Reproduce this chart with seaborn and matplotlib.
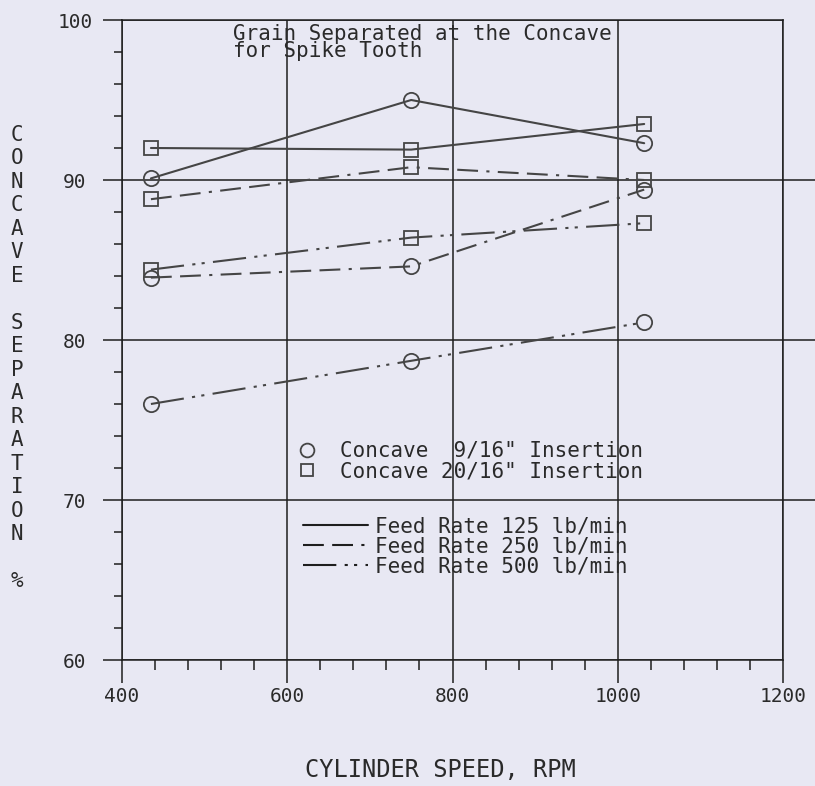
import matplotlib
matplotlib.use("Agg")
import matplotlib.pyplot as plt
import pandas as pd
import seaborn as sns
from matplotlib.lines import Line2D
from matplotlib.ticker import MultipleLocator

# ---------------- data ----------------
rpm = [435, 750, 1032]
sep_9_16_fr125 = [90.1, 95.0, 92.3]
sep_9_16_fr250 = [83.9, 84.6, 89.4]
sep_9_16_fr500 = [76.0, 78.7, 81.1]
sep_20_16_fr125 = [92.0, 91.9, 93.5]
sep_20_16_fr250 = [88.8, 90.8, 90.0]
sep_20_16_fr500 = [84.4, 86.4, 87.3]

insertions = ["9/16", "20/16"]
feed_rates = [125, 250, 500]
insertion_labels = ['Concave  9/16" Insertion', 'Concave 20/16" Insertion']
feed_labels = ["Feed Rate 125 lb/min", "Feed Rate 250 lb/min", "Feed Rate 500 lb/min"]
x_ticks = [400, 600, 800, 1000, 1200]
x_ticklabels = ["400", "600", "800", "1000", "1200"]
y_ticks = [60, 70, 80, 90, 100]
y_ticklabels = ["60", "70", "80", "90", "100"]
title_text = "Grain Separated at the Concave\nfor Spike Tooth"
x_label = "CYLINDER SPEED, RPM"
y_label = "CONCAVE SEPARATION %"

series = {
    ("9/16", 125): sep_9_16_fr125,
    ("9/16", 250): sep_9_16_fr250,
    ("9/16", 500): sep_9_16_fr500,
    ("20/16", 125): sep_20_16_fr125,
    ("20/16", 250): sep_20_16_fr250,
    ("20/16", 500): sep_20_16_fr500,
}
rows = []
for (ins, fr), vals in series.items():
    for x, v in zip(rpm, vals):
        rows.append({"insertion": ins, "feed": fr, "rpm": x, "sep": v})
df = pd.DataFrame(rows)

# ---------------- style ----------------
sns.set_style("ticks")
plt.rcParams["font.family"] = ["DejaVu Sans Mono", "DejaVu Sans"]

BG = "#e8e8f3"
INK = "#1e1e1e"
LINE = "#454545"
TXT = "#2a2a2a"

markers = {"9/16": "o", "20/16": "s"}
msizes = {"9/16": 11, "20/16": 9.5}
dash = {125: "-", 250: (0, (10, 4, 10, 4, 1.5, 4)), 500: (0, (16, 4, 1.5, 3, 1.5, 4))}

W, H = 815, 786
fig = plt.figure(figsize=(W / 100, H / 100), dpi=100, facecolor=BG)
L, R, T, B = 122, 783, 20, 660
ax = fig.add_axes([L / W, 1 - B / H, (R - L) / W, (B - T) / H])
ax.set_facecolor(BG)

for ins in insertions:
    for fr in feed_rates:
        sub = df[(df["insertion"] == ins) & (df["feed"] == fr)]
        sns.lineplot(data=sub, x="rpm", y="sep", ax=ax, color=LINE,
                     linestyle=dash[fr], linewidth=1.5,
                     marker=markers[ins], markersize=msizes[ins],
                     markerfacecolor="none", markeredgecolor=LINE,
                     markeredgewidth=1.3, legend=False, zorder=3)

ax.set_xlim(400, 1200)
ax.set_ylim(60, 100)
ax.set_xticks(x_ticks)
ax.set_xticklabels(x_ticklabels)
ax.set_yticks(y_ticks)
ax.set_yticklabels(y_ticklabels)
ax.xaxis.set_minor_locator(MultipleLocator(40))
ax.yaxis.set_minor_locator(MultipleLocator(2))

ax.grid(True, which="major", color=INK, linewidth=1.1)
for yv in y_ticks[1:-1]:
    ax.axhline(yv, xmin=1, xmax=(W - L) / (R - L), color=INK, linewidth=1.1, clip_on=False)

for s in ax.spines.values():
    s.set_visible(True)
    s.set_color(INK)
    s.set_linewidth(1.1)

ax.tick_params(axis="x", which="major", length=16.5, width=1.1, direction="out",
               pad=3, labelsize=14, colors=INK, labelcolor=TXT)
ax.tick_params(axis="x", which="minor", length=7, width=1.1, direction="out", colors=INK)
ax.tick_params(axis="y", which="major", length=14, width=1.1, direction="out",
               pad=20, labelsize=14, colors=INK, labelcolor=TXT)
ax.tick_params(axis="y", which="minor", length=6, width=1.1, direction="out", colors=INK)
for lbl in ax.get_yticklabels():
    lbl.set_horizontalalignment("center")

ax.set_xlabel(x_label, fontsize=17, color=TXT)
ax.xaxis.set_label_coords((440 - L) / (R - L), (B - 770) / (B - T))
ax.xaxis.label.set_verticalalignment("center")

ax.set_ylabel("\n".join(y_label), fontsize=15, color=TXT, rotation=0,
              linespacing=1.22, ha="center", va="center")
ax.yaxis.set_label_coords((17 - L) / (R - L), (B - 358) / (B - T))

ax.text((233 - L) / (R - L), (B - 24) / (B - T), title_text, transform=ax.transAxes,
        ha="left", va="top", fontsize=15, color=TXT, linespacing=0.8)

h1 = [Line2D([], [], linestyle="none", marker=markers[i], markersize=msizes[i] * 0.9,
             markerfacecolor="none", markeredgecolor=LINE, markeredgewidth=1.3)
      for i in insertions]
leg1 = ax.legend(h1, insertion_labels, loc="upper left",
                 bbox_to_anchor=(294 / W, 1 - 441 / H), bbox_transform=fig.transFigure,
                 frameon=False, borderpad=0, borderaxespad=0, handlelength=1.2,
                 handletextpad=1.0, labelspacing=0.02, fontsize=15, labelcolor=TXT)
ax.add_artist(leg1)

h2 = [Line2D([], [], color=INK, linewidth=1.5, linestyle=dash[f]) for f in feed_rates]
ax.legend(h2, feed_labels, loc="upper left",
          bbox_to_anchor=(303 / W, 1 - 516 / H), bbox_transform=fig.transFigure,
          frameon=False, borderpad=0, borderaxespad=0, handlelength=3.1,
          handletextpad=0.35, labelspacing=0.0, fontsize=15, labelcolor=TXT)

fig.savefig("out.png", dpi=100, facecolor=BG)
